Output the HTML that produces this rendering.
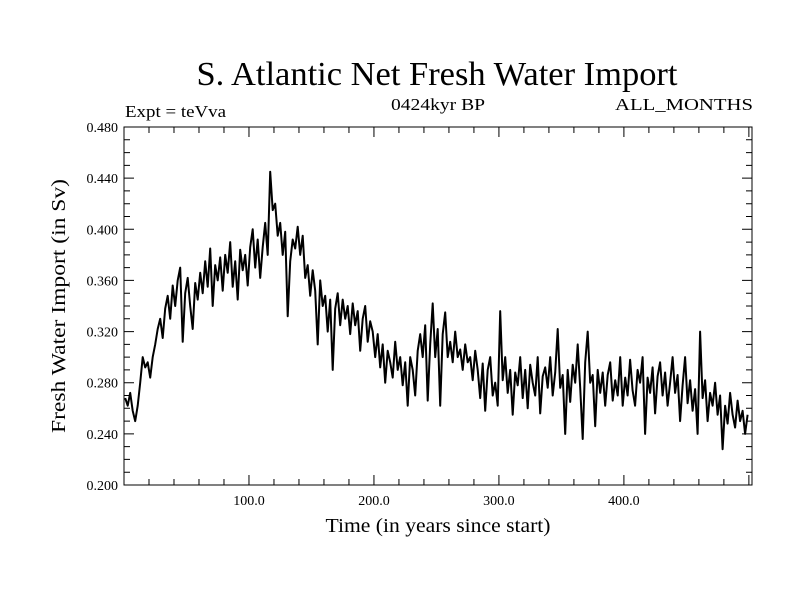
<!DOCTYPE html>
<html><head><meta charset="utf-8"><style>
html,body{margin:0;padding:0;background:#fff;}
svg{display:block;font-family:"Liberation Serif",serif;}
</style></head><body>
<svg id="chart" width="800" height="600" xmlns="http://www.w3.org/2000/svg">
<text x="437" y="85" font-size="34" text-anchor="middle" textLength="481" lengthAdjust="spacingAndGlyphs">S. Atlantic Net Fresh Water Import</text>
<text x="125" y="117" font-size="17" textLength="101" lengthAdjust="spacingAndGlyphs">Expt = teVva</text>
<text x="438" y="110" font-size="17" text-anchor="middle" textLength="94" lengthAdjust="spacingAndGlyphs">0424kyr BP</text>
<text x="753" y="110" font-size="17" text-anchor="end" textLength="138" lengthAdjust="spacingAndGlyphs">ALL_MONTHS</text>
<text x="438" y="532" font-size="20" text-anchor="middle" textLength="225" lengthAdjust="spacingAndGlyphs">Time (in years since start)</text>
<text x="0" y="0" font-size="20" text-anchor="middle" textLength="254" lengthAdjust="spacingAndGlyphs" transform="translate(65,306) rotate(-90)">Fresh Water Import (in Sv)</text>
<g id="axes"></g>
<g id="series"></g>
</svg>
<script>
const xTicks=[100,200,300,400];
const yTicks=[0.200,0.240,0.280,0.320,0.360,0.400,0.440,0.480];
const years0=1, yearStep=2;
const values=[
0.268,0.262,0.272,0.258,0.250,0.262,0.280,0.300,0.292,0.296,
0.284,0.300,0.310,0.322,0.330,0.315,0.338,0.348,0.330,0.356,
0.340,0.360,0.370,0.312,0.350,0.362,0.340,0.322,0.358,0.345,
0.366,0.350,0.375,0.355,0.385,0.340,0.372,0.360,0.378,0.352,
0.380,0.366,0.390,0.355,0.375,0.345,0.384,0.368,0.380,0.356,
0.386,0.400,0.370,0.392,0.362,0.386,0.405,0.380,0.445,0.415,
0.420,0.395,0.405,0.380,0.398,0.332,0.375,0.392,0.385,0.402,
0.380,0.395,0.362,0.372,0.348,0.368,0.352,0.310,0.360,0.340,
0.348,0.320,0.345,0.290,0.338,0.350,0.325,0.345,0.330,0.340,
0.318,0.342,0.325,0.336,0.305,0.330,0.340,0.312,0.328,0.320,
0.300,0.318,0.292,0.310,0.280,0.305,0.296,0.284,0.312,0.290,
0.300,0.278,0.296,0.262,0.300,0.290,0.270,0.305,0.318,0.300,
0.325,0.266,0.310,0.342,0.300,0.322,0.262,0.318,0.335,0.300,
0.312,0.296,0.320,0.300,0.306,0.290,0.310,0.296,0.300,0.282,
0.305,0.290,0.268,0.295,0.258,0.290,0.300,0.270,0.280,0.262,
0.336,0.282,0.300,0.272,0.290,0.255,0.288,0.278,0.300,0.268,
0.290,0.260,0.294,0.280,0.270,0.300,0.256,0.285,0.292,0.276,
0.300,0.270,0.288,0.322,0.276,0.286,0.240,0.290,0.265,0.294,
0.280,0.310,0.276,0.236,0.296,0.320,0.280,0.286,0.246,0.290,
0.272,0.288,0.262,0.286,0.296,0.266,0.282,0.270,0.300,0.262,
0.284,0.270,0.298,0.274,0.262,0.290,0.280,0.300,0.240,0.284,
0.272,0.292,0.256,0.285,0.296,0.270,0.288,0.262,0.280,0.300,
0.272,0.286,0.250,0.278,0.300,0.264,0.282,0.258,0.275,0.240,
0.320,0.268,0.282,0.250,0.272,0.262,0.280,0.255,0.270,0.228,
0.262,0.248,0.272,0.255,0.245,0.266,0.250,0.258,0.240,0.255];
const NS="http://www.w3.org/2000/svg";
const L=124,R=752,T=127,B=485,X0=0,X1=502.5,Y0=0.200,Y1=0.480;
const sx=v=>L+(v-X0)/(X1-X0)*(R-L);
const sy=v=>B-(v-Y0)/(Y1-Y0)*(B-T);
const axes=document.getElementById('axes'), ser=document.getElementById('series');
function mk(tag,attrs,parent){const e=document.createElementNS(NS,tag);for(const k in attrs)e.setAttribute(k,attrs[k]);parent.appendChild(e);return e;}
const frame=mk('rect',{x:L,y:T,width:R-L,height:B-T,fill:'none',stroke:'#000','stroke-width':1},axes);


let tp='';
for(let v=20;v<X1;v+=20){const x=sx(v);const len=(v%100===0)?10:6;tp+=`M${x},${B}v${-len}M${x},${T}v${len}`;}
for(let k=21;k<48;k++){const v=k/100;const y=sy(v);const len=(k%4===0)?10:6;tp+=`M${L},${y}h${len}M${R},${y}h${-len}`;}
const ticks=mk('path',{d:tp,stroke:'#000','stroke-width':1,fill:'none'},axes);


xTicks.forEach(v=>{const t=mk('text',{x:sx(v),y:B+20,'font-size':14,'text-anchor':'middle'},axes);t.textContent=v.toFixed(1);

});
yTicks.forEach(v=>{const t=mk('text',{x:L-6,y:sy(v)+5,'font-size':14,'text-anchor':'end'},axes);t.textContent=v.toFixed(3);

});
const d=values.map((v,i)=>(i?'L':'M')+sx(years0+i*yearStep).toFixed(1)+','+sy(v).toFixed(1)).join('');
const line=mk('path',{d:d,stroke:'#000','stroke-width':2,fill:'none','stroke-linejoin':'round'},ser);


</script>
</body></html>
